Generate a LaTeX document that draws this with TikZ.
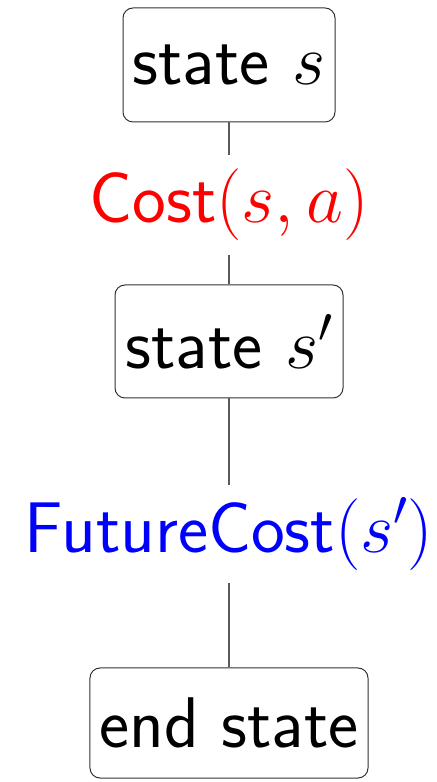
\RequirePackage{fix-cm}
\documentclass[tikz,border=0pt]{standalone}
\begin{document}
\begin{tikzpicture}[x=1bp,y=1bp,
  font=\sffamily\fontsize{72}{80}\selectfont,
  statebox/.style={draw=black!80, line width=1bp, rounded corners=10bp, inner sep=0pt, align=center},
  lbl/.style={inner sep=0pt, minimum height=100bp},
  conn/.style={draw=black!65, line width=1.3bp}]
\useasboundingbox (0,0) rectangle (437,782);
\node[statebox, minimum width=212bp, minimum height=114bp] (s) at (229,717) {state $s$};
\node[lbl, text=red] (c) at (229,577) {Cost$(s,a)$};
\node[statebox, minimum width=228bp, minimum height=113bp] (sp) at (229,440.5) {state $s'$};
\node[lbl, text=blue, minimum height=98bp] (f) at (229,248) {FutureCost$(s')$};
\node[statebox, minimum width=278bp, minimum height=110bp] (e) at (229,59) {end state};
\draw[conn] (s) -- (c);
\draw[conn] (c) -- (sp);
\draw[conn] (sp) -- (f);
\draw[conn] (f) -- (e);
\end{tikzpicture}
\end{document}
